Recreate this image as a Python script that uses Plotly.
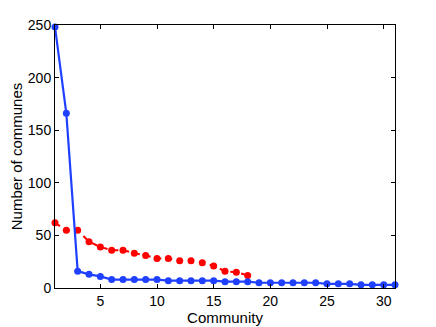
import plotly.graph_objects as go

community_blue = list(range(1, 32))
communes_blue = [248, 166, 16, 13, 11, 8, 8, 8, 8, 8, 7, 7, 7, 7, 7, 6, 6, 6,
                 5, 5, 5, 5, 5, 5, 4, 4, 4, 3, 3, 3, 3]
community_red = list(range(1, 19))
communes_red = [62, 55, 55, 44, 39, 36, 36, 33, 31, 28, 28, 26, 26, 24, 21, 16, 15, 12]

x_ticks = [5, 10, 15, 20, 25, 30]
y_ticks = [0, 50, 100, 150, 200, 250]

fig = go.Figure()
fig.add_trace(go.Scatter(
    x=community_red, y=communes_red, mode="lines+markers",
    line=dict(color="#ff0000", width=2, dash="6px,5px"),
    marker=dict(color="#ff0000", size=7), showlegend=False, cliponaxis=False))
fig.add_trace(go.Scatter(
    x=community_blue, y=communes_blue, mode="lines+markers",
    line=dict(color="#2040ff", width=2.2),
    marker=dict(color="#2040ff", size=7), showlegend=False, cliponaxis=False))

axis_common = dict(showline=True, linecolor="black", linewidth=1, mirror="ticks",
                   ticks="inside", ticklen=4, tickcolor="black", showgrid=False,
                   zeroline=False, automargin=False, tickfont=dict(size=14, color="black"))
fig.update_xaxes(range=[1, 31], tickvals=x_ticks, ticktext=[str(v) for v in x_ticks],
                 title=dict(text="Community", font=dict(size=15, color="black"), standoff=1),
                 **axis_common)
fig.update_yaxes(range=[0, 250], tickvals=y_ticks, ticktext=[str(v) for v in y_ticks],
                 title=dict(text="Number of communes", font=dict(size=15, color="black"), standoff=6),
                 **axis_common)
fig.update_layout(width=436, height=327, margin=dict(l=47, r=49, t=17, b=47),
                  paper_bgcolor="white", plot_bgcolor="white",
                  font=dict(family="Liberation Sans, Arial, sans-serif", color="black"))
fig.write_html("out.html")
